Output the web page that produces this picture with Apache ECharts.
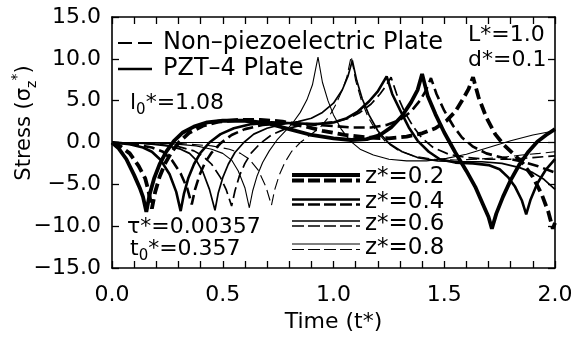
<!DOCTYPE html>
<html>
<head>
<meta charset="utf-8">
<script src="https://cdn.jsdelivr.net/npm/echarts@6/dist/echarts.min.js"></script>
<style>
  html, body { margin: 0; padding: 0; background: #fff; }
  #chart { width: 582px; height: 338px; }
</style>
</head>
<body>
<div id="chart"></div>
<script>
// stress curves, [t*, sigma_z*]
// PZT-4 plate (solid)
var pzt02 = [[0,0],[0.03,-0.7],[0.065,-2.0],[0.1,-3.9],[0.125,-5.4],[0.14,-6.5],[0.155,-8.3],[0.17,-6.2],[0.19,-4.3],[0.215,-2.6],[0.245,-1.1],[0.28,0.2],[0.32,1.2],[0.37,1.9],[0.43,2.4],[0.5,2.6],[0.6,2.6],[0.7,2.3],[0.8,1.6],[0.9,0.9],[1.0,0.5],[1.08,0.3],[1.15,0.4],[1.21,0.9],[1.26,1.8],[1.31,3.2],[1.35,4.8],[1.38,6.3],[1.40,8.2],[1.425,5.6],[1.46,3.4],[1.5,1.2],[1.55,-1.2],[1.6,-3.4],[1.64,-5.3],[1.675,-7.4],[1.7,-8.9],[1.715,-10.3],[1.735,-8.5],[1.765,-6.5],[1.8,-4.5],[1.84,-2.6],[1.88,-1.1],[1.92,0.1],[1.96,0.9],[2.0,1.6]];
var pzt04 = [[0,0],[0.08,-0.2],[0.14,-0.6],[0.18,-1.1],[0.22,-2.1],[0.26,-3.8],[0.29,-5.9],[0.31,-8.2],[0.325,-6.1],[0.345,-4.2],[0.37,-2.6],[0.4,-1.2],[0.44,0.0],[0.49,1.0],[0.55,1.7],[0.63,2.2],[0.72,2.4],[0.82,2.3],[0.92,2.2],[1.0,2.4],[1.06,2.9],[1.11,3.7],[1.16,4.9],[1.2,6.1],[1.24,7.9],[1.265,5.8],[1.3,3.9],[1.34,1.8],[1.38,0.2],[1.43,-1.1],[1.48,-2.0],[1.55,-2.4],[1.63,-2.5],[1.7,-2.7],[1.75,-3.2],[1.79,-4.2],[1.82,-5.3],[1.85,-6.9],[1.87,-8.6],[1.89,-6.8],[1.92,-4.9],[1.96,-3.2],[2.0,-2.0]];
var pzt06 = [[0,0],[0.15,-0.1],[0.25,-0.4],[0.31,-0.8],[0.35,-1.3],[0.38,-2.1],[0.41,-3.5],[0.44,-5.6],[0.465,-8.1],[0.48,-6.0],[0.5,-4.2],[0.525,-2.6],[0.555,-1.2],[0.595,0.0],[0.64,1.0],[0.7,1.7],[0.77,2.2],[0.84,2.5],[0.9,2.9],[0.95,3.6],[1.0,4.7],[1.04,6.3],[1.065,7.9],[1.085,9.8],[1.105,7.4],[1.13,5.2],[1.16,3.3],[1.2,1.4],[1.25,-0.1],[1.31,-1.1],[1.38,-1.8],[1.47,-2.2],[1.57,-2.3],[1.67,-2.3],[1.76,-2.5],[1.84,-3.0],[1.9,-3.6],[1.95,-4.4],[2.0,-5.6]];
var pzt08 = [[0,0],[0.25,-0.1],[0.38,-0.4],[0.45,-0.8],[0.5,-1.3],[0.54,-2.1],[0.57,-3.4],[0.6,-5.4],[0.62,-7.8],[0.635,-5.8],[0.655,-4.0],[0.68,-2.4],[0.71,-1.0],[0.745,0.3],[0.78,1.3],[0.815,2.3],[0.85,3.6],[0.88,5.1],[0.905,6.9],[0.93,10.2],[0.95,7.2],[0.975,5.0],[1.0,3.3],[1.035,1.6],[1.075,0.2],[1.12,-0.8],[1.18,-1.5],[1.25,-2.0],[1.33,-2.2],[1.42,-2.2],[1.51,-1.9],[1.6,-1.4],[1.7,-0.6],[1.8,0.2],[1.9,0.9],[2.0,1.4]];
// non-piezoelectric plate (dashed)
var non02 = [[0,0],[0.04,-0.5],[0.08,-1.3],[0.12,-2.8],[0.15,-4.3],[0.165,-5.8],[0.18,-7.9],[0.195,-5.9],[0.215,-4.1],[0.24,-2.5],[0.27,-1.1],[0.305,0.1],[0.35,1.2],[0.41,2.0],[0.48,2.5],[0.57,2.7],[0.67,2.7],[0.77,2.5],[0.86,2.0],[0.95,1.4],[1.05,0.9],[1.15,0.6],[1.25,0.5],[1.33,0.7],[1.4,1.1],[1.46,1.7],[1.51,2.6],[1.55,3.7],[1.585,5.2],[1.61,6.4],[1.63,7.8],[1.655,5.4],[1.69,3.0],[1.73,1.0],[1.77,-0.3],[1.81,-1.3],[1.855,-2.5],[1.9,-4.1],[1.94,-6.2],[1.97,-8.3],[1.99,-10.3],[2.0,-9.6]];
var non04 = [[0,0],[0.1,-0.2],[0.18,-0.6],[0.23,-1.1],[0.27,-2.1],[0.31,-3.7],[0.34,-5.5],[0.36,-7.4],[0.375,-5.6],[0.395,-3.9],[0.42,-2.4],[0.45,-1.2],[0.49,-0.1],[0.54,0.9],[0.6,1.6],[0.68,2.1],[0.78,2.3],[0.88,2.2],[0.98,2.0],[1.08,1.8],[1.17,1.8],[1.24,2.1],[1.3,2.7],[1.35,3.7],[1.39,5.0],[1.415,6.1],[1.44,7.7],[1.465,5.8],[1.5,3.8],[1.54,2.0],[1.58,0.6],[1.63,-0.5],[1.69,-1.3],[1.76,-1.8],[1.84,-2.2],[1.92,-2.8],[2.0,-3.6]];
var non06 = [[0,0],[0.2,-0.2],[0.3,-0.5],[0.37,-1.0],[0.41,-1.6],[0.45,-2.6],[0.49,-4.2],[0.515,-5.6],[0.54,-7.6],[0.555,-5.8],[0.575,-4.0],[0.6,-2.5],[0.63,-1.2],[0.67,-0.1],[0.72,0.9],[0.78,1.6],[0.86,2.1],[0.94,2.3],[1.01,2.5],[1.07,2.9],[1.12,3.6],[1.17,4.6],[1.21,5.8],[1.235,6.7],[1.26,7.8],[1.285,5.8],[1.32,3.7],[1.36,1.9],[1.4,0.5],[1.45,-0.6],[1.52,-1.4],[1.6,-1.8],[1.7,-2.0],[1.8,-2.0],[1.9,-1.8],[2.0,-1.6]];
var non08 = [[0,0],[0.3,-0.1],[0.45,-0.4],[0.53,-0.8],[0.58,-1.3],[0.62,-2.0],[0.66,-3.3],[0.695,-5.3],[0.72,-7.5],[0.735,-5.6],[0.755,-3.9],[0.78,-2.4],[0.81,-1.1],[0.85,0.0],[0.895,0.9],[0.94,1.8],[0.98,3.1],[1.01,4.5],[1.04,6.3],[1.06,7.8],[1.08,10.3],[1.1,7.4],[1.125,5.1],[1.155,3.1],[1.19,1.5],[1.235,0.1],[1.29,-0.9],[1.36,-1.6],[1.45,-2.0],[1.55,-2.1],[1.65,-2.0],[1.75,-1.8],[1.85,-1.5],[1.93,-1.3],[2.0,-1.1]];

var zLabels = ['z*=0.2', 'z*=0.4', 'z*=0.6', 'z*=0.8'];
var xMin = 0, xMax = 2, xStep = 0.5;
var yMin = -15, yMax = 15, yStep = 5;

var FONT = 'DejaVu Sans';
var widths = [3.8, 2.6, 1.7, 1.1];
var solids = [pzt02, pzt04, pzt06, pzt08];
var dashes = [non02, non04, non06, non08];

var chart = echarts.init(document.getElementById('chart'));

var series = [];
for (var i = 0; i < 4; i++) {
	series.push({
		type: 'line', data: dashes[i], showSymbol: false, silent: true,
		lineStyle: { color: '#000', width: widths[i], type: [11, 5] }
	});
	series.push({
		type: 'line', data: solids[i], showSymbol: false, silent: true,
		lineStyle: { color: '#000', width: widths[i] }
	});
}
// zero line
series[0].markLine = {
	silent: true, symbol: ['none', 'none'], label: { show: false },
	lineStyle: { color: '#000', width: 1.2, type: 'solid' },
	data: [{ yAxis: 0 }]
};

var rich = {
	n: { fontSize: 22, fontFamily: FONT, lineHeight: 30, verticalAlign: 'middle', color: '#000' },
	sub: { fontSize: 15, fontFamily: FONT, lineHeight: 15, verticalAlign: 'bottom', color: '#000' },
	sup: { fontSize: 15, fontFamily: FONT, lineHeight: 15, verticalAlign: 'top', color: '#000' }
};
var richY = {
	n: { fontSize: 21, fontFamily: FONT, lineHeight: 29, verticalAlign: 'middle', color: '#000' },
	sub: { fontSize: 14, fontFamily: FONT, lineHeight: 14, verticalAlign: 'bottom', color: '#000' },
	sup: { fontSize: 14, fontFamily: FONT, lineHeight: 14, verticalAlign: 'top', color: '#000' }
};
function txt(x, y, s, size) {
	return { type: 'text', x: x, y: y, silent: true,
		style: { text: s, fill: '#000', fontSize: size || 22, fontFamily: FONT, align: 'left', verticalAlign: 'middle' } };
}
function rtxt(x, y, s) {
	return { type: 'text', x: x, y: y, silent: true,
		style: { text: s, rich: rich, fill: '#000', fontSize: 22, fontFamily: FONT, align: 'left', verticalAlign: 'middle' } };
}
function seg(x1, y1, x2, y2, w, dash) {
	return { type: 'line', silent: true, shape: { x1: x1, y1: y1, x2: x2, y2: y2 },
		style: { stroke: '#000', lineWidth: w, lineDash: dash || null } };
}

var graphics = [
	seg(118, 43, 152, 43, 2.2, [14, 6]),
	seg(118, 69, 152, 69, 2.5),
	txt(163, 43, 'Non\u2013piezoelectric Plate', 24),
	txt(163, 69, 'PZT\u20134 Plate', 24),
	rtxt(130, 103, '{n|l}{sub|0}{n|*=1.08}'),
	txt(468, 35, 'L*=1.0'),
	txt(468, 60, 'd*=0.1'),
	txt(127, 227, '\u03c4*=0.00357'),
	rtxt(130, 249, '{n|t}{sub|0}{n|*=0.357}'),
	{ type: 'text', x: 25, y: 123, rotation: Math.PI / 2, silent: true,
		style: { text: '{n|Stress (\u03c3}{sub|z}{sup|*}{n|)}', rich: richY, fill: '#000', align: 'center', verticalAlign: 'middle' } }
];
var legY = [[175, 180.5], [199.5, 204.5], [221, 226], [244, 249.5]];
var legText = [177, 202, 224, 248];
for (var k = 0; k < 4; k++) {
	graphics.push(seg(292, legY[k][0], 360, legY[k][0], widths[k]));
	graphics.push(seg(292, legY[k][1], 360, legY[k][1], widths[k], [12, 4]));
	graphics.push(txt(365, legText[k], zLabels[k], 23));
}

function xFmt(v) { return v.toFixed(1); }
function yFmt(v) { return (v < 0 ? '\u2212' : '') + Math.abs(v).toFixed(1); }

function axisParts() {
	return {
		axisLine: { show: true, onZero: false, lineStyle: { color: '#000', width: 1.6 } },
		axisTick: { show: true, inside: true, length: 7, lineStyle: { color: '#000', width: 1.3 } },
		splitLine: { show: false }
	};
}
function minor() {
	return { show: true, splitNumber: 5, length: 7, lineStyle: { color: '#000', width: 1.3 } };
}

var option = {
	animation: false,
	backgroundColor: '#fff',
	grid: { left: 112, right: 27, top: 17, bottom: 70 },
	xAxis: [
		Object.assign({
			type: 'value', position: 'bottom', min: xMin, max: xMax, interval: xStep,
			minorTick: minor(),
			axisLabel: { formatter: xFmt, color: '#000', fontSize: 22, fontFamily: FONT, margin: 16 },
			name: 'Time (t*)', nameLocation: 'middle', nameGap: 42,
			nameTextStyle: { color: '#000', fontSize: 22, fontFamily: FONT }
		}, axisParts()),
		Object.assign({
			type: 'value', position: 'top', min: xMin, max: xMax, interval: xStep,
			minorTick: minor(),
			axisLabel: { show: false }
		}, axisParts())
	],
	yAxis: [
		Object.assign({
			type: 'value', position: 'left', min: yMin, max: yMax, interval: yStep,
			axisLabel: { formatter: yFmt, color: '#000', fontSize: 22, fontFamily: FONT, margin: 11 }
		}, axisParts()),
		Object.assign({
			type: 'value', position: 'right', min: yMin, max: yMax, interval: yStep,
			axisLabel: { show: false }
		}, axisParts())
	],
	graphic: { elements: graphics },
	series: series
};
chart.setOption(option);
</script>
</body>
</html>
